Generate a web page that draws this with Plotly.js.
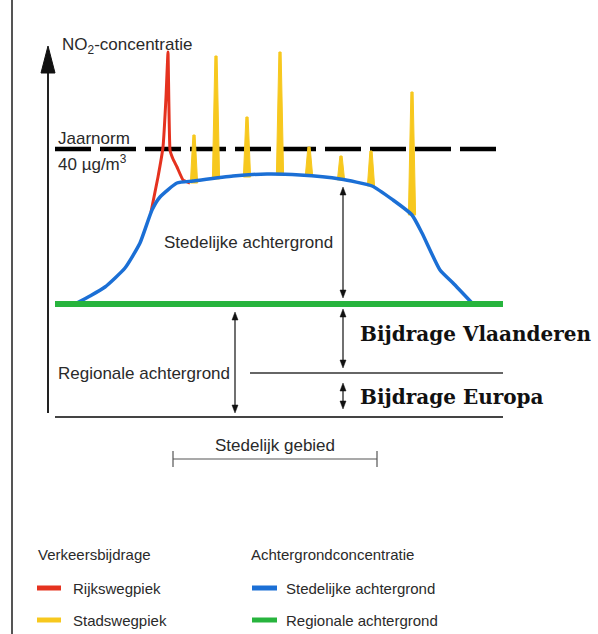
<!DOCTYPE html>
<html>
<head>
<meta charset="utf-8">
<script src="https://cdn.plot.ly/plotly-3.0.1.min.js"></script>
<style>html,body{margin:0;padding:0;background:#fff;}#chart{width:598px;height:634px;}</style>
</head>
<body>
<div id="chart"></div>
<script>
// Schematic NO2 concentration profile (arbitrary units; 0 = bottom baseline)
const urbanX = [75, 90, 105, 125, 140, 152, 160, 177, 193, 233, 267, 300, 340, 372, 393, 412, 422, 440, 453, 472];
const urbanY = [113, 121, 130, 149, 174, 207, 220, 234, 236, 241, 243, 242, 238, 231, 217, 202, 184, 147, 134, 114];

const highwayX = [151, 158, 163, 166, 168, 170, 173, 177, 183, 190];
const highwayY = [205, 240, 270, 320, 365, 267, 258, 250, 237, 234];

const cityPeakX = [194, 216, 247, 280, 309, 341, 371, 412];
const cityPeakTop = [282, 361, 300, 365, 270, 261, 266, 325];
const cityPeakBase = [234, 238, 240, 242, 242, 237, 231, 202];

const regionalX = [55, 503];
const regionalLevel = 113;
const europeLevel = 44;
const baseLevel = 0;
const normLevel = 268;
const normX = [55, 498];

const RED = '#e5321f', YELLOW = '#f7c81e', BLUE = '#1b6fd5', GREEN = '#27b43d';
const SANS = '"Liberation Sans", Arial, sans-serif';
const SERIF = '"DejaVu Serif", serif';
const TXT = '#2a2a2a';

// build spike polygons from the peak arrays
const spikeXs = [], spikeYs = [];
const hwBase = 3.6, hwTop = 1.1;
cityPeakX.forEach((x, i) => {
  spikeXs.push(x - hwBase, x - hwTop, x + hwTop, x + hwBase, x - hwBase, null);
  spikeYs.push(cityPeakBase[i], cityPeakTop[i], cityPeakTop[i], cityPeakBase[i], cityPeakBase[i], null);
});

const traces = [
  {x: normX, y: [normLevel, normLevel], mode: 'lines', line: {color: '#000', width: 4.5, dash: '36px,9px'}, hoverinfo: 'skip'},
  {x: spikeXs, y: spikeYs, mode: 'lines', fill: 'toself', fillcolor: YELLOW, line: {color: YELLOW, width: 1}, hoverinfo: 'skip'},
  {x: highwayX, y: highwayY, mode: 'lines', line: {color: RED, width: 3, shape: 'spline', smoothing: 0.3}, hoverinfo: 'skip'},
  {x: urbanX, y: urbanY, mode: 'lines', line: {color: BLUE, width: 3.5, shape: 'spline', smoothing: 0.5}, hoverinfo: 'skip'},
  {x: regionalX, y: [regionalLevel, regionalLevel], mode: 'lines', line: {color: GREEN, width: 6}, hoverinfo: 'skip'}
];

function txt(text, x, y, opts) {
  return Object.assign({text: text, x: x, y: y, xref: 'x', yref: 'y', showarrow: false,
    xanchor: 'left', yanchor: 'middle', font: {family: SANS, size: 17, color: TXT}}, opts || {});
}
const LEG = {family: SANS, size: 15, color: TXT};
const BOLD = {family: SERIF, size: 20, color: '#111', weight: 'bold'};

const annotations = [
  txt('NO<sub>2</sub>-concentratie', 60, 371),
  txt('Jaarnorm', 56, 279),
  txt('40 µg/m<sup>3</sup>', 56, 254),
  txt('Stedelijke achtergrond', 162, 175),
  txt('Regionale achtergrond', 56, 44),
  txt('Bijdrage Vlaanderen', 358, 83, {font: BOLD}),
  txt('Bijdrage Europa', 358, 20, {font: BOLD}),
  txt('Stedelijk gebied', 275, -28, {xanchor: 'center'}),
  txt('Verkeersbijdrage', 36, -137, {font: LEG}),
  txt('Rijkswegpiek', 71, -171, {font: LEG}),
  txt('Stadswegpiek', 71, -203, {font: LEG}),
  txt('Achtergrondconcentratie', 249, -137, {font: LEG}),
  txt('Stedelijke achtergrond', 284, -171, {font: LEG}),
  txt('Regionale achtergrond', 284, -203, {font: LEG})
];

// double-headed arrows (top, bottom) drawn as shapes
function dbl(x, yTop, yBot) {
  const h = 8, w = 3;
  return [
    {type: 'line', xref: 'x', yref: 'y', x0: x, x1: x, y0: yTop - h + 1, y1: yBot + h - 1, line: {color: '#111', width: 1.2}},
    {type: 'path', xref: 'x', yref: 'y', path: `M ${x - w} ${yTop - h} L ${x + w} ${yTop - h} L ${x} ${yTop} Z`, fillcolor: '#111', line: {color: '#111', width: 0.5}},
    {type: 'path', xref: 'x', yref: 'y', path: `M ${x - w} ${yBot + h} L ${x + w} ${yBot + h} L ${x} ${yBot} Z`, fillcolor: '#111', line: {color: '#111', width: 0.5}}
  ];
}

const shapes = [
  // page border on the left
  {type: 'line', xref: 'x', yref: 'paper', x0: 12, x1: 12, y0: 0, y1: 1, line: {color: '#555', width: 2}},
  // vertical axis with arrow head
  {type: 'line', xref: 'x', yref: 'y', x0: 48, x1: 48, y0: 4, y1: 355, line: {color: '#222', width: 2}},
  {type: 'path', xref: 'x', yref: 'y', path: 'M 41 344 L 55 344 L 48 371 Z', fillcolor: '#111', line: {color: '#111', width: 1}},
  // baseline and Europe separator
  {type: 'line', xref: 'x', yref: 'y', x0: 55, x1: 503, y0: baseLevel, y1: baseLevel, line: {color: '#444', width: 2}},
  {type: 'line', xref: 'x', yref: 'y', x0: 250, x1: 503, y0: europeLevel, y1: europeLevel, line: {color: '#333', width: 1.5}},
  // urban area bracket
  {type: 'line', xref: 'x', yref: 'y', x0: 173, x1: 377, y0: -42, y1: -42, line: {color: '#555', width: 1.2}},
  {type: 'line', xref: 'x', yref: 'y', x0: 173, x1: 173, y0: -34, y1: -50, line: {color: '#555', width: 1.2}},
  {type: 'line', xref: 'x', yref: 'y', x0: 377, x1: 377, y0: -34, y1: -50, line: {color: '#555', width: 1.2}},
  // legend swatches
  {type: 'line', xref: 'x', yref: 'y', x0: 37, x1: 61, y0: -171, y1: -171, line: {color: RED, width: 5}},
  {type: 'line', xref: 'x', yref: 'y', x0: 37, x1: 61, y0: -203, y1: -203, line: {color: YELLOW, width: 5}},
  {type: 'line', xref: 'x', yref: 'y', x0: 252, x1: 277, y0: -171, y1: -171, line: {color: BLUE, width: 5}},
  {type: 'line', xref: 'x', yref: 'y', x0: 252, x1: 277, y0: -203, y1: -203, line: {color: GREEN, width: 5}}
].concat(dbl(343, 230, 119), dbl(235, 105, 4), dbl(343, 108, 49), dbl(343, 34, 8));

const layout = {
  width: 598, height: 634,
  margin: {l: 0, r: 0, t: 0, b: 0},
  paper_bgcolor: '#fff', plot_bgcolor: '#fff',
  showlegend: false,
  xaxis: {range: [0, 598], visible: false, fixedrange: true},
  yaxis: {range: [-217, 417], visible: false, fixedrange: true},
  annotations: annotations,
  shapes: shapes
};

Plotly.newPlot('chart', traces, layout, {staticPlot: true});
</script>
</body>
</html>
